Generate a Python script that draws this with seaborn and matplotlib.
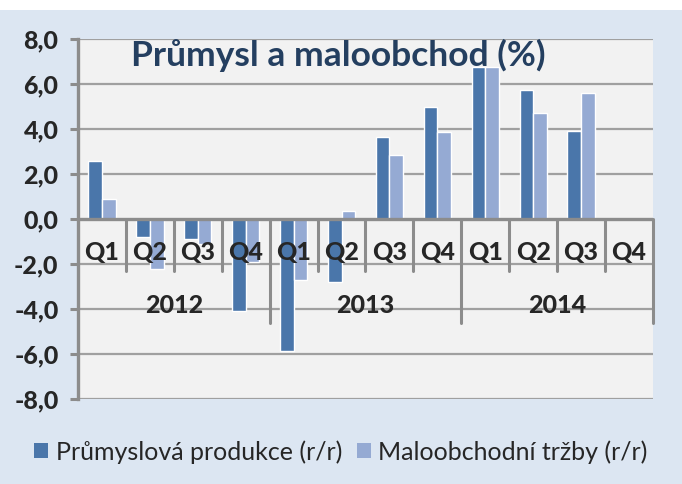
import matplotlib
matplotlib.use("Agg")
import matplotlib.pyplot as plt
import matplotlib.patches as mpatches
import numpy as np
import pandas as pd
import seaborn as sns

# data (y/y, %)
years = ["2012", "2013", "2014"]
quarters = ["Q1", "Q2", "Q3", "Q4"]
prumysl = [2.6, -0.8, -0.9, -4.1, -5.85, -2.8, 3.65, 5.0, 6.75, 5.75, 3.9, np.nan]
maloobchod = [0.9, -2.2, -1.1, -1.9, -2.7, 0.35, 2.85, 3.85, 6.75, 4.7, 5.6, np.nan]
series_names = ["Průmyslová produkce (r/r)", "Maloobchodní tržby (r/r)"]
title = "Průmysl a maloobchod (%)"

periods = [f"{y} {q}" for y in years for q in quarters]
df = pd.DataFrame({
    "period": periods * 2,
    "value": prumysl + maloobchod,
    "series": [series_names[0]] * 12 + [series_names[1]] * 12,
})

sns.set_style("white")
plt.rcParams["font.family"] = ["Lato", "DejaVu Sans"]

bg = "#dce6f2"
grid_c = "#a0a0a0"
axis_c = "#8c8c8c"
colors = ["#4a76aa", "#95aad3"]
lab_size = 18
lab_weight = 900

fig = plt.figure(figsize=(6.82, 4.84), dpi=100, facecolor=bg)
fig.patches.append(mpatches.Rectangle((0, 1 - 10 / 484), 1, 10 / 484, transform=fig.transFigure,
                                      facecolor="white", edgecolor="none", zorder=0))
ax = fig.add_axes([78 / 682, 1 - 399 / 484, 575 / 682, 360 / 484])
ax.set_facecolor("#f2f2f2")

sns.barplot(data=df, x="period", y="value", hue="series", order=periods,
            hue_order=series_names, palette=colors, width=0.57, ax=ax,
            saturation=1, errorbar=None, legend=False, zorder=3)

ax.set_xlim(-0.5, 11.5)
ax.set_ylim(-8, 8)
yt = np.arange(-8, 9, 2)
ax.set_yticks(yt)
ax.set_yticklabels([f"{v:.1f}".replace(".", ",") for v in yt], fontsize=lab_size,
                   fontweight=lab_weight)
for v in yt:
    if v != 0:
        ax.axhline(v, color=grid_c, lw=1.6, zorder=1)
ax.axhline(0, color=axis_c, lw=2.4, zorder=4)

ax.set_xticks([])
ax.set_xlabel("")
ax.set_ylabel("")
for s in ["top", "right", "bottom"]:
    ax.spines[s].set_visible(False)
ax.spines["left"].set_color(axis_c)
ax.spines["left"].set_linewidth(2.4)
ax.tick_params(axis="y", length=6, width=2.2, color=axis_c, pad=8, left=True)

# multi-level category axis drawn inside the plot
for i, p in enumerate(periods):
    ax.text(i, -1.5, p.split()[1], ha="center", va="center", fontsize=lab_size,
            fontweight=lab_weight, zorder=5)
for i in range(1, 13):
    low = -4.6 if i % 4 == 0 else -2.3
    ax.plot([i - 0.5, i - 0.5], [0, low], color=axis_c, lw=2.2, zorder=4, clip_on=False)
for k, y in enumerate(years):
    ax.text(4 * k + 1.5, -3.85, y, ha="center", va="center", fontsize=lab_size,
            fontweight=lab_weight, zorder=5)

fig.text(338 / 682, 1 - 66 / 484, title, ha="center", va="baseline", fontsize=25.5,
         fontweight="bold", color="#243f60", zorder=6)

handles = [mpatches.Patch(facecolor=c, edgecolor="none") for c in colors]
fig.legend(handles, series_names, loc="center", bbox_to_anchor=(0.5, 1 - 452 / 484),
           ncol=2, frameon=False, fontsize=18, handlelength=0.55, handleheight=0.55,
           handletextpad=0.3, columnspacing=0.6)

fig.savefig("out.png", dpi=100, facecolor=bg)
